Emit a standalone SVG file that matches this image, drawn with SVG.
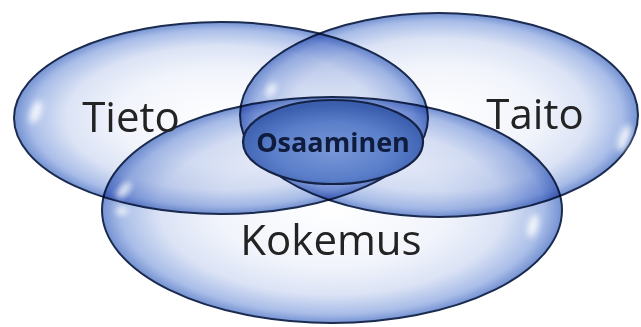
<svg xmlns="http://www.w3.org/2000/svg" width="641" height="327" viewBox="0 0 641 327">
  <defs>
    <!-- glossy pale-blue fill shared by the three large sets -->
    <radialGradient id="setFill" cx="0.5" cy="0.5" r="0.5">
      <stop offset="0" stop-color="#ffffff"/>
      <stop offset="0.5" stop-color="#f1f4fb"/>
      <stop offset="0.75" stop-color="#dbe3f5"/>
      <stop offset="0.92" stop-color="#a9bde8"/>
      <stop offset="1" stop-color="#7492d2"/>
    </radialGradient>
    <!-- deeper blue for the core intersection -->
    <radialGradient id="coreFill" cx="0.5" cy="0.6" r="0.55">
      <stop offset="0" stop-color="#7a98d8"/>
      <stop offset="0.6" stop-color="#5b7fca"/>
      <stop offset="1" stop-color="#3a5ead"/>
    </radialGradient>
    <filter id="soft" x="-50%" y="-50%" width="200%" height="200%">
      <feGaussianBlur stdDeviation="3"/>
    </filter>
  </defs>
  <style>
    .set { fill: url(#setFill); stroke: #1b2b4f; stroke-width: 2; mix-blend-mode: multiply; }
    .core { fill: url(#coreFill); stroke: #142246; stroke-width: 2.2; }
    .gloss { fill: #ffffff; opacity: 0.85; filter: url(#soft); }
    .label { font-family: "Open Sans", "Liberation Sans", sans-serif; font-size: 42px; fill: #232323; text-anchor: middle; }
    .coreLabel { font-family: "Open Sans", "Liberation Sans", sans-serif; font-size: 27px; font-weight: bold; fill: #0f1c3d; text-anchor: middle; }
  </style>

  <rect width="641" height="327" fill="#ffffff"/>

  <g id="tieto">
    <ellipse class="set" cx="221" cy="118" rx="207" ry="96"/>
  </g>
  <g id="taito">
    <ellipse class="set" cx="439" cy="115" rx="199" ry="102"/>
  </g>
  <g id="kokemus">
    <ellipse class="set" cx="332" cy="210" rx="230" ry="113"/>
  </g>

  <!-- specular highlights near the rims -->
  <g id="highlights">
    <ellipse class="gloss" cx="36" cy="112" rx="5" ry="12" transform="rotate(20 36 112)"/>
    <ellipse class="gloss" cx="624" cy="138" rx="5" ry="14" transform="rotate(20 624 138)"/>
    <ellipse class="gloss" cx="124" cy="190" rx="4" ry="10" transform="rotate(40 124 190)"/>
    <ellipse class="gloss" cx="122" cy="211" rx="6" ry="4"/>
    <ellipse class="gloss" cx="533" cy="226" rx="5" ry="12" transform="rotate(15 533 226)"/>
    <ellipse class="gloss" cx="271" cy="90" rx="4" ry="8" transform="rotate(30 271 90)"/>
  </g>

  <g id="osaaminen">
    <ellipse class="core" cx="333" cy="142" rx="90" ry="42"/>
    <text class="coreLabel" x="333" y="152">Osaaminen</text>
  </g>

  <g id="labels">
    <text class="label" x="131" y="132">Tieto</text>
    <text class="label" x="535" y="129">Taito</text>
    <text class="label" x="331" y="255">Kokemus</text>
  </g>
</svg>
